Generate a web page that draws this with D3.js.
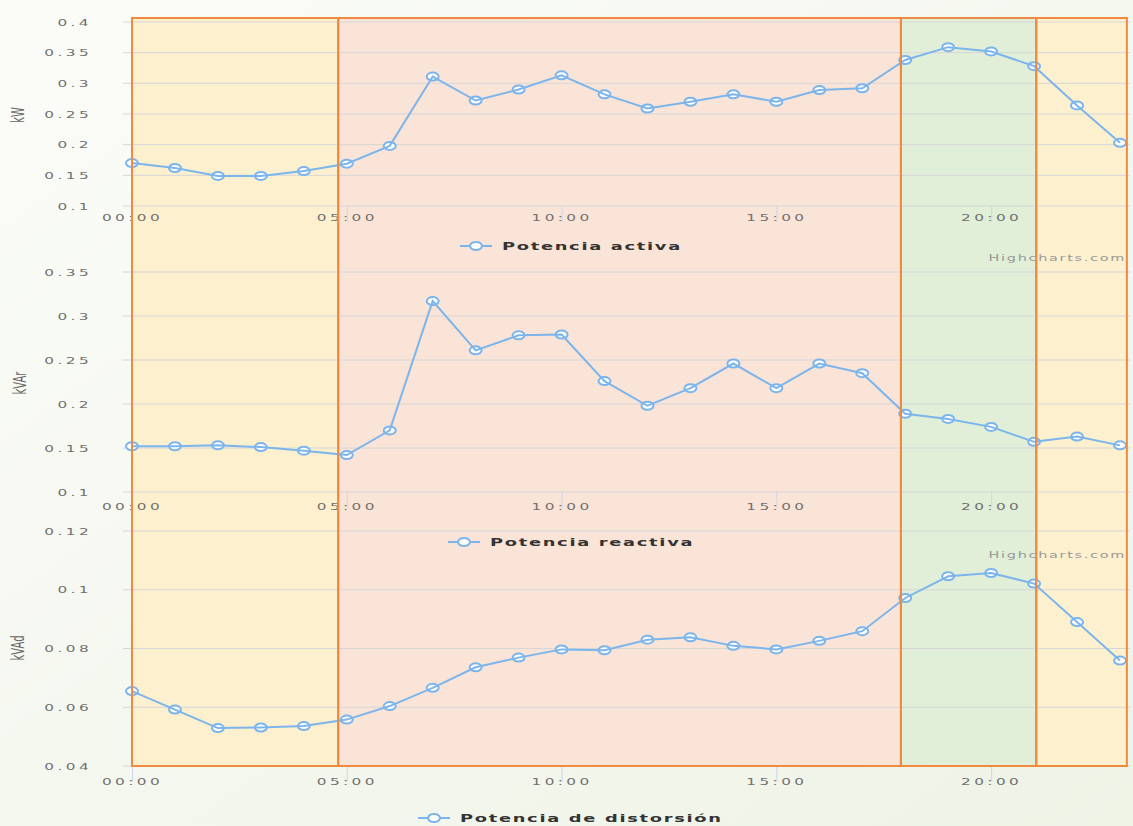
<!DOCTYPE html>
<html>
<head>
<meta charset="utf-8">
<script src="https://cdn.jsdelivr.net/npm/d3@7"></script>
<style>
  html, body { margin: 0; padding: 0; background: #fff; }
  svg { display: block; }
  text { font-family: "DejaVu Sans", Verdana, sans-serif; }
</style>
</head>
<body>
<svg id="chart" width="1133" height="826"></svg>
<script>
// horas del día
const hours = [0, 1, 2, 3, 4, 5, 6, 7, 8, 9, 10, 11, 12, 13, 14, 15, 16, 17, 18, 19, 20, 21, 22, 23];
const hourTicks = [0, 5, 10, 15, 20];
const hourLabels = ["00:00", "05:00", "10:00", "15:00", "20:00"];

// series
const activa = [0.170, 0.162, 0.149, 0.149, 0.157, 0.169, 0.198, 0.311, 0.272, 0.290, 0.313, 0.282,
                0.259, 0.270, 0.282, 0.270, 0.289, 0.292, 0.338, 0.359, 0.352, 0.328, 0.264, 0.203];
const reactiva = [0.152, 0.152, 0.153, 0.151, 0.147, 0.142, 0.170, 0.317, 0.261, 0.278, 0.279, 0.226,
                  0.198, 0.218, 0.246, 0.218, 0.246, 0.235, 0.189, 0.183, 0.174, 0.157, 0.163, 0.153];
const distorsion = [0.0655, 0.0592, 0.0529, 0.0531, 0.0536, 0.0558, 0.0604, 0.0666, 0.0736, 0.0769, 0.0797, 0.0794,
                    0.0830, 0.0838, 0.0809, 0.0797, 0.0826, 0.0859, 0.0972, 0.1046, 0.1057, 0.1021, 0.0890, 0.0759];

// ticks de los ejes y
const ticksActiva = [0.1, 0.15, 0.2, 0.25, 0.3, 0.35, 0.4];
const ticksReactiva = [0.1, 0.15, 0.2, 0.25, 0.3, 0.35];
const ticksDistorsion = [0.04, 0.06, 0.08, 0.1, 0.12];

// franjas horarias (inicio, fin en horas)
const bandStart = [0, 4.8, 17.9, 21.05];
const bandEnd = [4.8, 17.9, 21.05, 23.16];
const bandFill = ["#fdf0cf", "#fae4d7", "#e1eed8", "#fdf0cf"];

const svg = d3.select("#chart");
const sx = 1.7; // la captura original esta estirada en horizontal
const blue = "#7cb5ec";

// fondo
const defs = svg.append("defs");
const grad = defs.append("linearGradient").attr("id", "bg")
  .attr("x1", "0").attr("y1", "0").attr("x2", "1").attr("y2", "1");
grad.append("stop").attr("offset", "0%").attr("stop-color", "#fbfcf8");
grad.append("stop").attr("offset", "100%").attr("stop-color", "#eef3e6");
svg.append("rect").attr("width", 1133).attr("height", 826).attr("fill", "url(#bg)");

const x = d3.scaleLinear().domain([0, 23]).range([132, 1120]);

const panels = [
  { values: activa, domain: [0.1, 0.4], ticks: ticksActiva, top: 22, bottom: 206, labelY: 221,
    title: "kW", titleX: 18, titleY: 115, legend: "Potencia activa", legendX: 460, legendY: 246, credits: 261 },
  { values: reactiva, domain: [0.1, 0.35], ticks: ticksReactiva, top: 272, bottom: 492, labelY: 510,
    title: "kVAr", titleX: 20, titleY: 383, legend: "Potencia reactiva", legendX: 448, legendY: 542, credits: 558 },
  { values: distorsion, domain: [0.04, 0.12], ticks: ticksDistorsion, top: 531, bottom: 766, labelY: 785,
    title: "kVAd", titleX: 18, titleY: 648, legend: "Potencia de distorsión", legendX: 418, legendY: 818, credits: null }
];

const bandTop = 18, bandBottom = 766;

// franjas de color
const bands = svg.append("g");
bands.selectAll("rect").data(bandStart).join("rect")
  .attr("x", d => x(d))
  .attr("y", bandTop)
  .attr("width", (d, i) => x(bandEnd[i]) - x(d))
  .attr("height", bandBottom - bandTop)
  .attr("fill", (d, i) => bandFill[i]);

const stretched = (sel, px, py) => sel.attr("transform", `translate(${px},${py}) scale(${sx},1)`);

panels.forEach(p => {
  const y = d3.scaleLinear().domain(p.domain).range([p.bottom, p.top]);
  const g = svg.append("g");

  // rejilla
  g.append("g").selectAll("line").data(p.ticks).join("line")
    .attr("x1", 123).attr("x2", 1130)
    .attr("y1", d => y(d)).attr("y2", d => y(d))
    .attr("stroke", "#d6d6d6").attr("stroke-width", 1);

  // eje y
  const yAxis = g.append("g").attr("transform", "translate(123,0)")
    .call(d3.axisLeft(y).tickValues(p.ticks).tickSize(0).tickFormat(d3.format("")));
  yAxis.select(".domain").remove();
  yAxis.selectAll("text")
    .attr("x", -31 / sx).attr("dy", "0.35em")
    .attr("transform", `scale(${sx},1)`)
    .attr("fill", "#707070").attr("font-size", 9).attr("letter-spacing", 2)
    .attr("font-family", "DejaVu Sans");

  // eje x
  const xAxis = g.append("g").attr("transform", `translate(0,${p.bottom})`)
    .call(d3.axisBottom(x).tickValues(hourTicks).tickSize(16).tickFormat((d, i) => hourLabels[i]));
  xAxis.select(".domain").remove();
  xAxis.selectAll("line").attr("stroke", "#ccd6eb");
  xAxis.selectAll("text")
    .attr("y", 0).attr("dy", 0)
    .attr("transform", `translate(0,${p.labelY - p.bottom}) scale(${sx},1)`)
    .attr("fill", "#707070").attr("font-size", 9).attr("letter-spacing", 2)
    .attr("font-family", "DejaVu Sans");

  // titulo del eje y
  svg.append("text").text(p.title)
    .attr("transform", `translate(${p.titleX},${p.titleY}) scale(${sx},1) rotate(-90)`)
    .attr("text-anchor", "middle").attr("dy", "0.35em")
    .attr("font-size", 10).attr("fill", "#666");

  // linea y marcadores
  const line = d3.line().x((d, i) => x(hours[i])).y(d => y(d));
  g.append("path").datum(p.values)
    .attr("d", line).attr("fill", "none")
    .attr("stroke", blue).attr("stroke-width", 2);

  g.append("g").selectAll("ellipse").data(p.values).join("ellipse")
    .attr("cx", (d, i) => x(hours[i])).attr("cy", d => y(d))
    .attr("rx", 6).attr("ry", 4)
    .attr("fill", "#fff").attr("stroke", blue).attr("stroke-width", 2);

  // leyenda
  const lg = svg.append("g");
  lg.append("line").attr("x1", p.legendX).attr("x2", p.legendX + 32)
    .attr("y1", p.legendY).attr("y2", p.legendY)
    .attr("stroke", blue).attr("stroke-width", 2);
  lg.append("ellipse").attr("cx", p.legendX + 16).attr("cy", p.legendY)
    .attr("rx", 6).attr("ry", 4)
    .attr("fill", "#fff").attr("stroke", blue).attr("stroke-width", 2);
  lg.append("text").text(p.legend)
    .call(stretched, p.legendX + 42, p.legendY + 4)
    .attr("font-size", 10.5).attr("font-weight", "bold").attr("letter-spacing", 1)
    .attr("fill", "#333");

  if (p.credits) {
    svg.append("text").text("Highcharts.com")
      .call(stretched, 1126, p.credits)
      .attr("text-anchor", "end")
      .attr("font-size", 8.5).attr("letter-spacing", 1).attr("fill", "#999");
  }
});

// bordes de las franjas
svg.append("g").selectAll("rect").data(bandStart).join("rect")
  .attr("x", d => x(d))
  .attr("y", bandTop)
  .attr("width", (d, i) => x(bandEnd[i]) - x(d))
  .attr("height", bandBottom - bandTop)
  .attr("fill", "none")
  .attr("stroke", "#ef8a3e").attr("stroke-width", 2);

// las lineas quedan por encima de los bordes
svg.selectAll("path, ellipse").raise();
</script>
</body>
</html>
